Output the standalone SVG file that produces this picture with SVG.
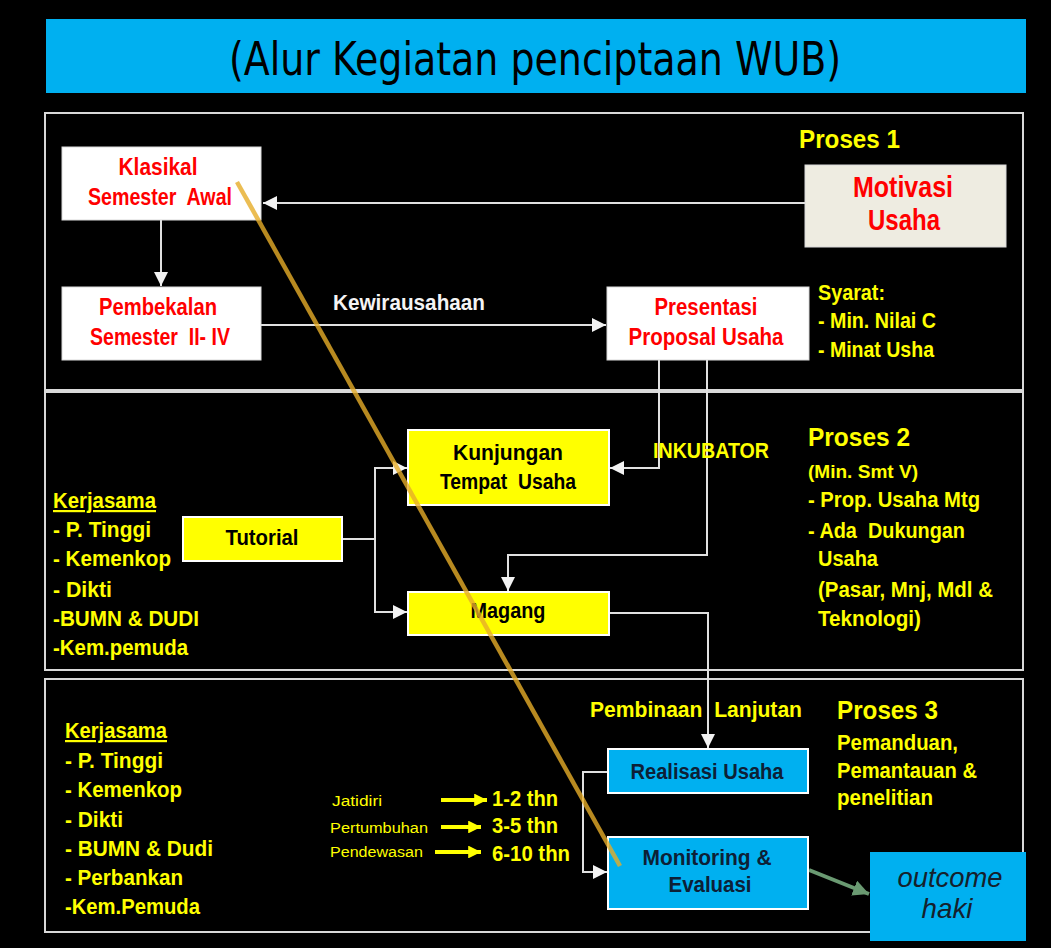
<svg xmlns="http://www.w3.org/2000/svg" width="1051" height="948" viewBox="0 0 1051 948">
<defs>
<marker id="aw" viewBox="0 0 10 10" refX="10" refY="5" markerWidth="7" markerHeight="7" markerUnits="strokeWidth" orient="auto"><path d="M0,0 L10,5 L0,10 z" fill="#f2f2f2"/></marker>
<marker id="ay" viewBox="0 0 10 10" refX="10" refY="5" markerWidth="3.2" markerHeight="3.2" markerUnits="strokeWidth" orient="auto"><path d="M0,0 L10,5 L0,10 z" fill="#ffff00"/></marker>
<marker id="ag" viewBox="0 0 10 10" refX="10" refY="5" markerWidth="4" markerHeight="4" markerUnits="strokeWidth" orient="auto"><path d="M0,0 L10,5 L0,10 z" fill="#6a9a72"/></marker>
</defs>
<style>
text{font-family:"Liberation Sans Narrow","Liberation Sans",Arial,sans-serif;font-weight:bold;white-space:pre}
.frame{fill:none;stroke:#d9d9d9;stroke-width:2}
.wbox{fill:#ffffff;stroke:#d9d9d9;stroke-width:1}
.ybox{fill:#ffff00;stroke:#ffffff;stroke-width:2}
.cbox{fill:#00b0f0;stroke:#ffffff;stroke-width:2}
.red{fill:#ff0000;font-size:23px}
.blk{fill:#000000;font-size:22px}
.nav{fill:#0d2036;font-size:22px}
.yel{fill:#ffff00;font-size:22px}
.yh{fill:#ffff00;font-size:26px}
.sm{fill:#ffff00;font-size:14px;font-weight:normal}
.con{fill:none;stroke:#e0e0e0;stroke-width:2}
</style>
<rect x="0" y="0" width="1051" height="948" fill="#000000"/>

<g id="title">
<rect x="46" y="19" width="980" height="74" fill="#00b0f0"/>
<text x="535" y="75" text-anchor="middle" textLength="612" lengthAdjust="spacingAndGlyphs" style="font-family:'DejaVu Sans',sans-serif;font-weight:normal;font-size:46px" fill="#000000">(Alur Kegiatan penciptaan WUB)</text>
</g>

<g id="frames">
<rect class="frame" x="45" y="113" width="978" height="277"/>
<rect class="frame" x="45" y="392" width="978" height="278"/>
<rect class="frame" x="45" y="679" width="978" height="253"/>
</g>

<g id="connectors">
<line class="con" x1="805" y1="203" x2="263" y2="203" marker-end="url(#aw)"/>
<line class="con" x1="161" y1="220" x2="161" y2="286" marker-end="url(#aw)"/>
<line class="con" x1="261" y1="325" x2="606" y2="325" marker-end="url(#aw)"/>
<polyline class="con" points="659,360 659,468 610,468" marker-end="url(#aw)"/>
<polyline class="con" points="707,360 707,555 508,555 508,591" marker-end="url(#aw)"/>
<polyline class="con" points="342,539 375,539 375,468 407,468" marker-end="url(#aw)"/>
<polyline class="con" points="375,539 375,612 407,612" marker-end="url(#aw)"/>
<polyline class="con" points="609,613 708,613 708,748" marker-end="url(#aw)"/>
<polyline class="con" points="608,772 583,772 583,872 607,872" marker-end="url(#aw)"/>
<line x1="809" y1="870" x2="869" y2="894" stroke="#6a9a72" stroke-width="4" marker-end="url(#ag)"/>
<line x1="441" y1="800" x2="487" y2="800" stroke="#ffff00" stroke-width="4" marker-end="url(#ay)"/>
<line x1="441" y1="827" x2="481" y2="827" stroke="#ffff00" stroke-width="4" marker-end="url(#ay)"/>
<line x1="435" y1="852" x2="481" y2="852" stroke="#ffff00" stroke-width="4" marker-end="url(#ay)"/>
</g>

<g id="klasikal">
<rect class="wbox" x="62" y="147" width="199" height="73"/>
<text class="red" x="158" y="175" text-anchor="middle" textLength="79" lengthAdjust="spacingAndGlyphs">Klasikal</text>
<text class="red" x="160" y="205" text-anchor="middle" textLength="144" lengthAdjust="spacingAndGlyphs">Semester  Awal</text>
</g>

<g id="pembekalan">
<rect class="wbox" x="62" y="287" width="199" height="73"/>
<text class="red" x="158" y="315" text-anchor="middle" textLength="118" lengthAdjust="spacingAndGlyphs">Pembekalan</text>
<text class="red" x="160" y="345" text-anchor="middle" textLength="140" lengthAdjust="spacingAndGlyphs">Semester  II- IV</text>
</g>

<g id="motivasi">
<rect x="805" y="165" width="201" height="82" fill="#eeece1" stroke="#d9d9d9" stroke-width="1"/>
<text class="red" x="903" y="197" text-anchor="middle" textLength="100" lengthAdjust="spacingAndGlyphs" style="font-size:29px">Motivasi</text>
<text class="red" x="904" y="230" text-anchor="middle" textLength="72" lengthAdjust="spacingAndGlyphs" style="font-size:29px">Usaha</text>
</g>

<g id="presentasi">
<rect class="wbox" x="607" y="287" width="202" height="73"/>
<text class="red" x="706" y="315" text-anchor="middle" textLength="103" lengthAdjust="spacingAndGlyphs">Presentasi</text>
<text class="red" x="706" y="345" text-anchor="middle" textLength="155" lengthAdjust="spacingAndGlyphs">Proposal Usaha</text>
</g>

<g id="labels1">
<text class="yh" x="799" y="148" textLength="101" lengthAdjust="spacingAndGlyphs">Proses 1</text>
<text x="333" y="310" textLength="152" lengthAdjust="spacingAndGlyphs" style="font-size:22px" fill="#f4f4f4">Kewirausahaan</text>
<text class="yel" x="818" y="300" textLength="67" lengthAdjust="spacingAndGlyphs">Syarat:</text>
<text class="yel" x="818" y="328" textLength="118" lengthAdjust="spacingAndGlyphs">- Min. Nilai C</text>
<text class="yel" x="818" y="357" textLength="116" lengthAdjust="spacingAndGlyphs">- Minat Usha</text>
</g>

<g id="kunjungan">
<rect class="ybox" x="408" y="430" width="201" height="75"/>
<text class="blk" x="508" y="460" text-anchor="middle" textLength="110" lengthAdjust="spacingAndGlyphs">Kunjungan</text>
<text class="blk" x="508" y="489" text-anchor="middle" textLength="136" lengthAdjust="spacingAndGlyphs">Tempat  Usaha</text>
</g>

<g id="tutorial">
<rect class="ybox" x="183" y="517" width="159" height="44"/>
<text class="blk" x="262" y="545" text-anchor="middle" textLength="73" lengthAdjust="spacingAndGlyphs">Tutorial</text>
</g>

<g id="magang">
<rect class="ybox" x="408" y="592" width="201" height="43"/>
<text class="blk" x="508" y="618" text-anchor="middle" textLength="75" lengthAdjust="spacingAndGlyphs">Magang</text>
</g>

<g id="labels2">
<text class="yel" x="653" y="458" textLength="116" lengthAdjust="spacingAndGlyphs">INKUBATOR</text>
<text class="yh" x="808" y="446" textLength="102" lengthAdjust="spacingAndGlyphs">Proses 2</text>
<text class="yel" x="808" y="478" textLength="110" lengthAdjust="spacingAndGlyphs" style="font-size:19px">(Min. Smt V)</text>
<text class="yel" x="808" y="507" textLength="172" lengthAdjust="spacingAndGlyphs">- Prop. Usaha Mtg</text>
<text class="yel" x="808" y="538" textLength="157" lengthAdjust="spacingAndGlyphs">- Ada  Dukungan</text>
<text class="yel" x="818" y="566" textLength="60" lengthAdjust="spacingAndGlyphs">Usaha</text>
<text class="yel" x="818" y="597" textLength="175" lengthAdjust="spacingAndGlyphs">(Pasar, Mnj, Mdl &amp;</text>
<text class="yel" x="818" y="626" textLength="103" lengthAdjust="spacingAndGlyphs">Teknologi)</text>
<text class="yel" x="53" y="508" textLength="103" lengthAdjust="spacingAndGlyphs" text-decoration="underline">Kerjasama</text>
<text class="yel" x="53" y="537" textLength="98" lengthAdjust="spacingAndGlyphs">- P. Tinggi</text>
<text class="yel" x="53" y="566" textLength="118" lengthAdjust="spacingAndGlyphs">- Kemenkop</text>
<text class="yel" x="53" y="597" textLength="59" lengthAdjust="spacingAndGlyphs">- Dikti</text>
<text class="yel" x="53" y="626" textLength="146" lengthAdjust="spacingAndGlyphs">-BUMN &amp; DUDI</text>
<text class="yel" x="53" y="655" textLength="135" lengthAdjust="spacingAndGlyphs">-Kem.pemuda</text>
</g>

<g id="realisasi">
<rect class="cbox" x="608" y="749" width="200" height="44"/>
<text class="nav" x="707" y="779" text-anchor="middle" textLength="153" lengthAdjust="spacingAndGlyphs">Realisasi Usaha</text>
</g>

<g id="monitoring">
<rect class="cbox" x="608" y="837" width="200" height="72"/>
<text class="nav" x="707" y="865" text-anchor="middle" textLength="129" lengthAdjust="spacingAndGlyphs">Monitoring &amp;</text>
<text class="nav" x="710" y="892" text-anchor="middle" textLength="83" lengthAdjust="spacingAndGlyphs">Evaluasi</text>
</g>

<g id="outcome">
<rect x="870" y="852" width="156" height="89" fill="#00b0f0"/>
<text x="950" y="887" text-anchor="middle" textLength="105" lengthAdjust="spacingAndGlyphs" style="font-family:'Liberation Sans',Arial,sans-serif;font-weight:normal;font-style:italic;font-size:28px" fill="#15202c">outcome</text>
<text x="947" y="918" text-anchor="middle" textLength="51" lengthAdjust="spacingAndGlyphs" style="font-family:'Liberation Sans',Arial,sans-serif;font-weight:normal;font-style:italic;font-size:28px" fill="#15202c">haki</text>
</g>

<g id="labels3">
<text class="yel" x="590" y="717" textLength="212" lengthAdjust="spacingAndGlyphs">Pembinaan  Lanjutan</text>
<text class="yh" x="837" y="719" textLength="101" lengthAdjust="spacingAndGlyphs">Proses 3</text>
<text class="yel" x="837" y="750" textLength="121" lengthAdjust="spacingAndGlyphs">Pemanduan,</text>
<text class="yel" x="837" y="778" textLength="140" lengthAdjust="spacingAndGlyphs">Pemantauan &amp;</text>
<text class="yel" x="837" y="805" textLength="96" lengthAdjust="spacingAndGlyphs">penelitian</text>
<text class="yel" x="65" y="738" textLength="102" lengthAdjust="spacingAndGlyphs" text-decoration="underline">Kerjasama</text>
<text class="yel" x="65" y="768" textLength="98" lengthAdjust="spacingAndGlyphs">- P. Tinggi</text>
<text class="yel" x="65" y="797" textLength="117" lengthAdjust="spacingAndGlyphs">- Kemenkop</text>
<text class="yel" x="65" y="827" textLength="58" lengthAdjust="spacingAndGlyphs">- Dikti</text>
<text class="yel" x="65" y="856" textLength="148" lengthAdjust="spacingAndGlyphs">- BUMN &amp; Dudi</text>
<text class="yel" x="65" y="885" textLength="118" lengthAdjust="spacingAndGlyphs">- Perbankan</text>
<text class="yel" x="65" y="914" textLength="135" lengthAdjust="spacingAndGlyphs">-Kem.Pemuda</text>
<text class="sm" x="332" y="806" textLength="50" lengthAdjust="spacingAndGlyphs">Jatidiri</text>
<text class="sm" x="330" y="833" textLength="98" lengthAdjust="spacingAndGlyphs">Pertumbuhan</text>
<text class="sm" x="330" y="857" textLength="93" lengthAdjust="spacingAndGlyphs">Pendewasan</text>
<text class="yel" x="492" y="806" textLength="66" lengthAdjust="spacingAndGlyphs">1-2 thn</text>
<text class="yel" x="492" y="833" textLength="66" lengthAdjust="spacingAndGlyphs">3-5 thn</text>
<text class="yel" x="492" y="861" textLength="78" lengthAdjust="spacingAndGlyphs">6-10 thn</text>
</g>

<g id="diagonal">
<line x1="237" y1="182" x2="620" y2="866" stroke="#e6ac28" stroke-width="4.5" stroke-opacity="0.8"/>
</g>
</svg>
